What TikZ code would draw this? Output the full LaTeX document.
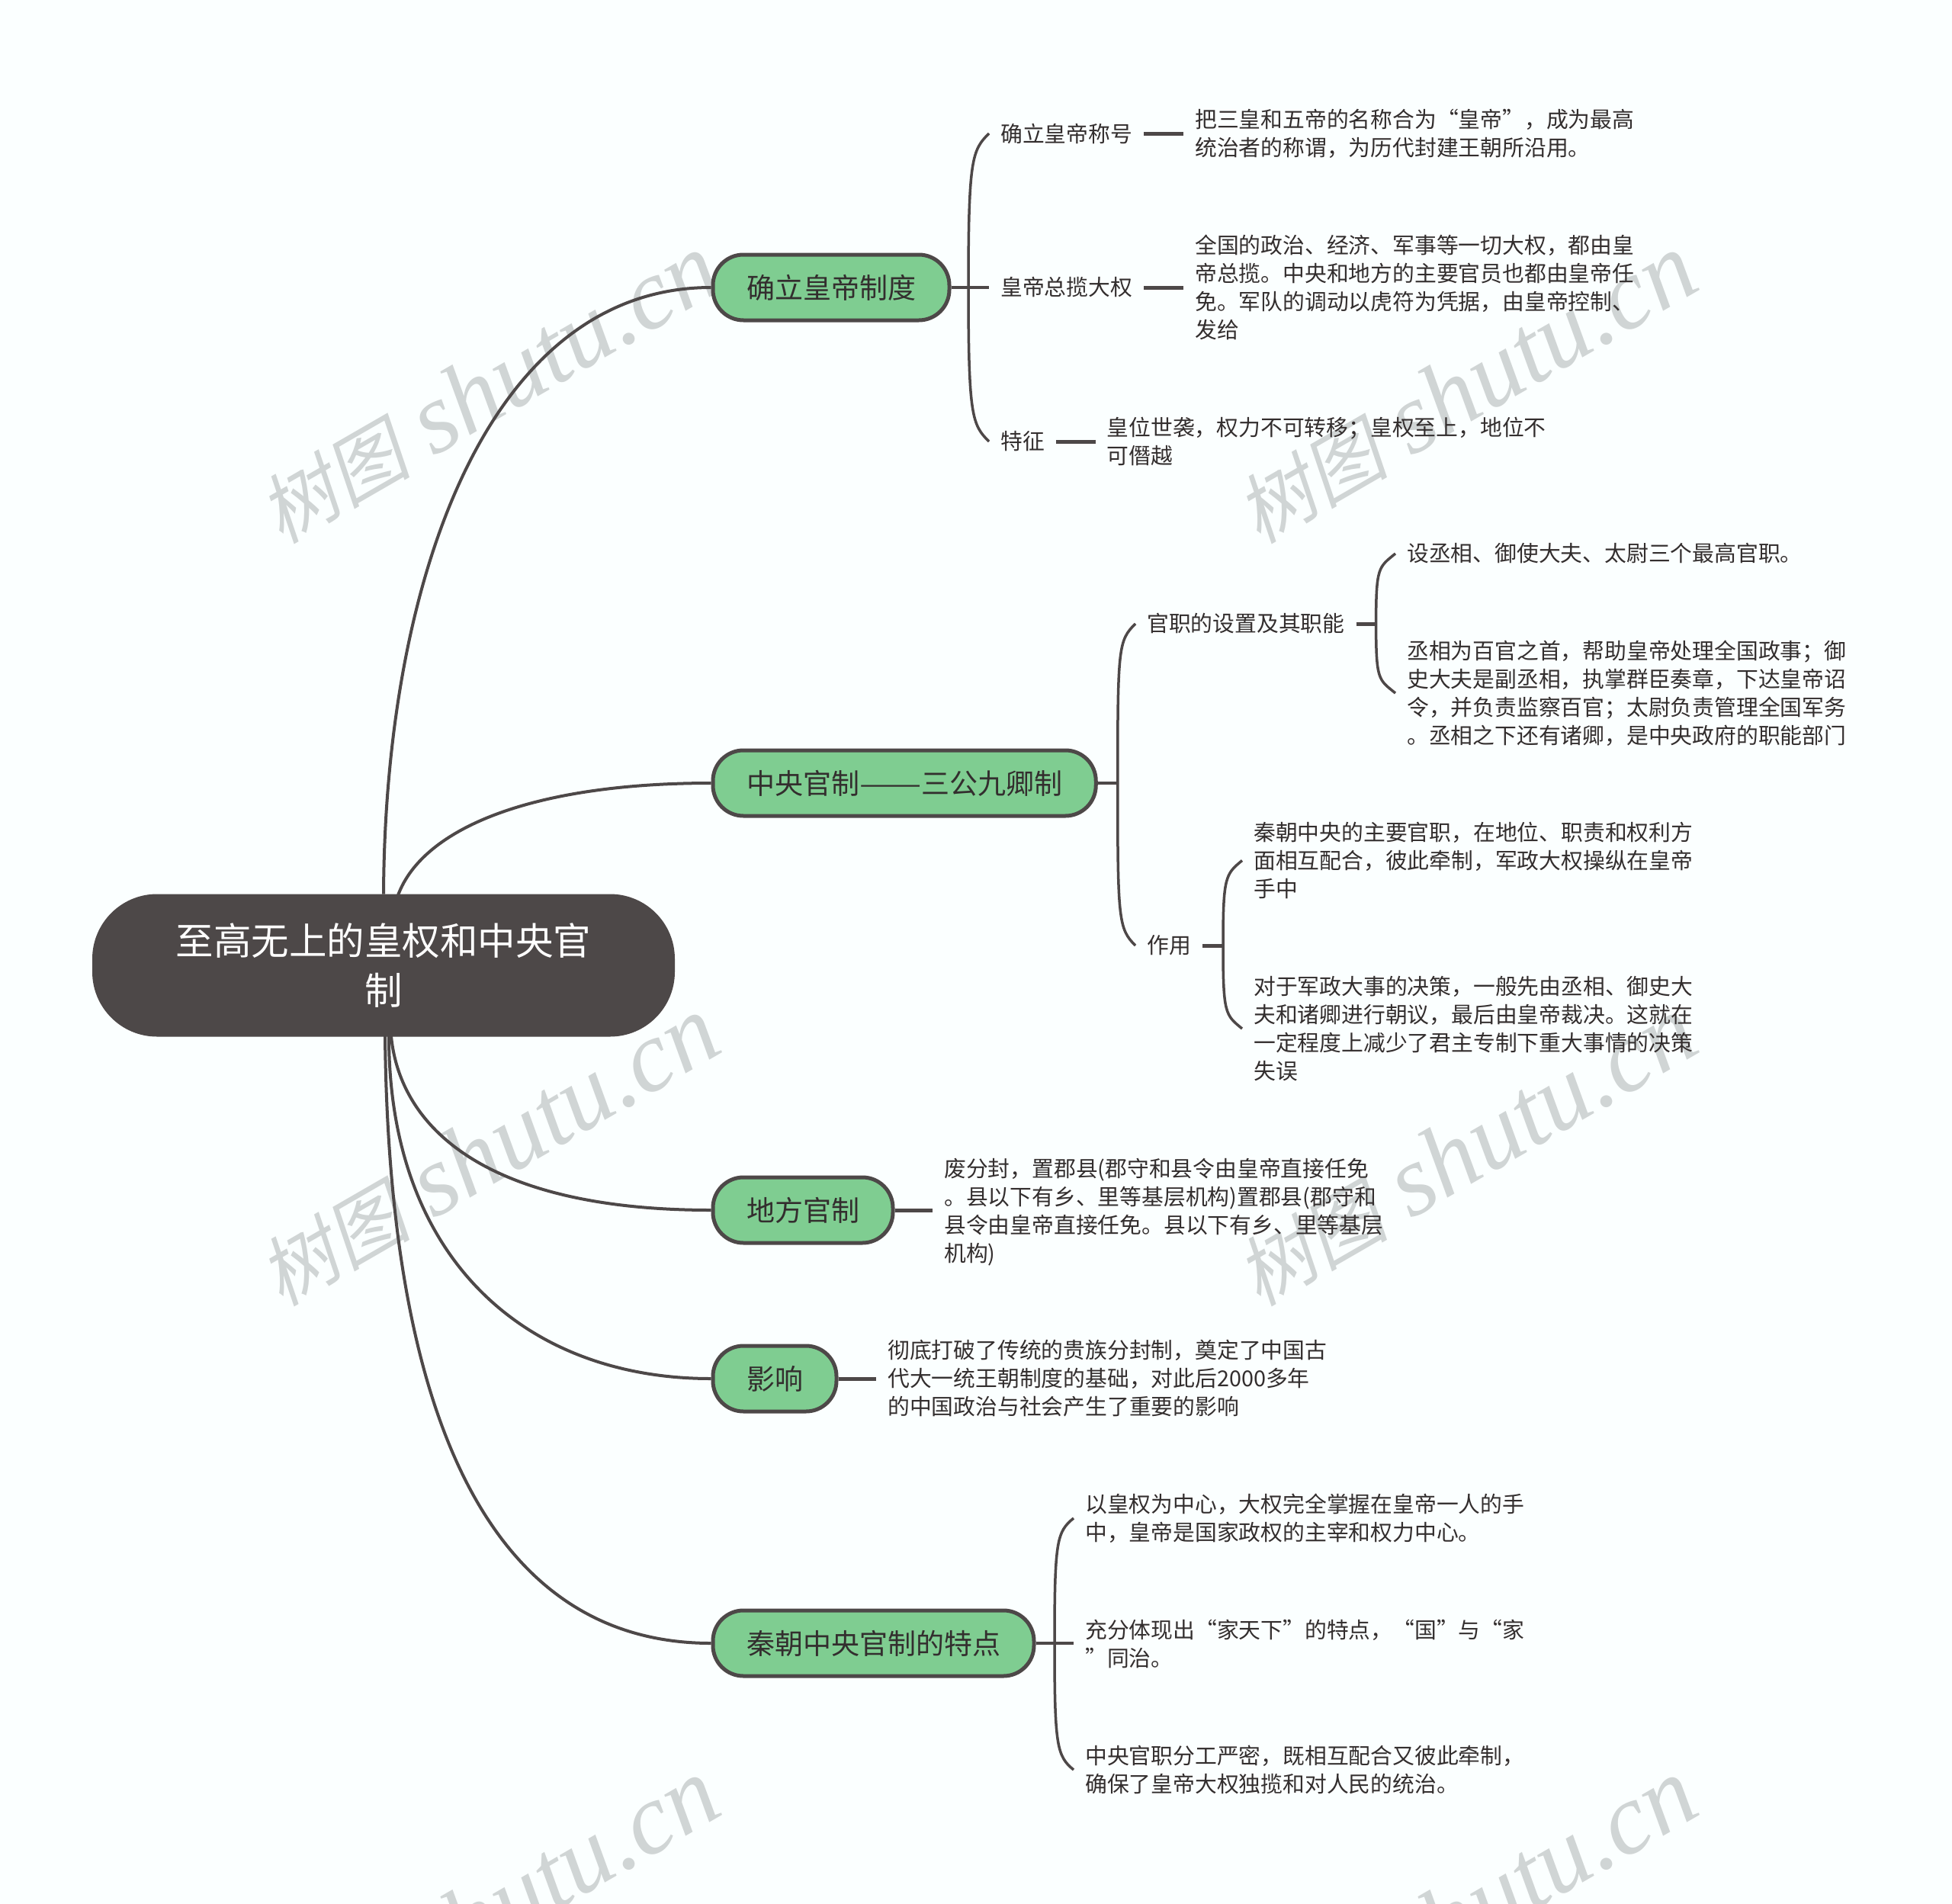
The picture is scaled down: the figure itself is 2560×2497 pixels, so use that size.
\documentclass[tikz,border=0pt]{standalone}
\usepackage{fontspec}
\setmainfont{Noto Sans CJK SC}
\newfontfamily\wmcjk[FakeSlant=0.2]{Noto Sans CJK SC}
\newfontfamily\wmlat{Liberation Serif}
\definecolor{pagebg}{HTML}{FBFFFF}
\definecolor{inkdark}{HTML}{4D4848}
\definecolor{leafgreen}{HTML}{7FCD91}
\definecolor{marktone}{HTML}{D0D5D5}
\definecolor{bodyink}{HTML}{332E2E}
\begin{document}
\begin{tikzpicture}
            [x=1pt, y=-1pt,
            rootnode/.style={shape=rectangle, rounded corners=84pt, fill=inkdark, draw=inkdark, line width=2pt, minimum width=762pt, minimum height=185pt, text=white, align=center, font=\fontsize{49.5}{65}\selectfont},
            topic/.style={shape=rectangle, rounded corners=40pt, fill=leafgreen, draw=inkdark, line width=5pt, minimum height=86pt, inner xsep=44pt, anchor=west, text=bodyink, font=\fontsize{37}{44}\selectfont},
            leaf/.style={inner xsep=15pt, inner ysep=0pt, anchor=west, align=left, text=bodyink, font=\fontsize{28.8}{37}\selectfont},
            stalk/.style={draw=inkdark, line width=4pt},
            twig/.style={draw=inkdark, line width=3.5pt},
            dash line/.style={draw=inkdark, line width=5pt},
            watermark/.style={text=marktone, rotate=30, inner sep=0pt, font=\fontsize{132}{132}\selectfont}]
            \useasboundingbox (0, 0) rectangle (2560, 2497);
            \clip (0, 0) rectangle (2560, 2497);
            \fill[pagebg] (0, 0) rectangle (2560, 2497);

            \foreach \col/\colx in {a/640, b/1922}
                \foreach \row/\rowy in {a/510, b/1510, c/2510}
                    \node[watermark] (mark\col\row) at (\colx, \rowy) {{\wmcjk\fontsize{100}{100}\selectfont 树图}\hspace{30pt}{\wmlat\itshape shutu.cn}};

            \node[rootnode] (root) at (503, 1266) {至高无上的皇权和中央官\\制};
            \coordinate (rootb) at (522, 1174);
            \coordinate (rootc) at (513, 1359);
            \coordinate (rootd) at (510, 1359);
            \coordinate (roote) at (505, 1359);

            \node[topic] (rule) at (932.5, 377) {确立皇帝制度};
            \node[topic] (office) at (932.5, 1027) {中央官制\scalebox{1.31}[1]{——}三公九卿制};
            \node[topic] (local) at (932.5, 1587) {地方官制};
            \node[topic] (effect) at (932.5, 1808) {影响};
            \node[topic] (traits) at (932.5, 2155) {秦朝中央官制的特点};

            \node[leaf] (title) at (1297, 175) {确立皇帝称号};
            \node[leaf] (power) at (1297, 377) {皇帝总揽大权};
            \node[leaf] (mark) at (1297, 579) {特征};
            \node[leaf] (titletext) at (1552, 175) {把三皇和五帝的名称合为“皇帝”，成为最高\\统治者的称谓，为历代封建王朝所沿用。};
            \node[leaf] (powertext) at (1552, 377) {全国的政治、经济、军事等一切大权，都由皇\\帝总揽。中央和地方的主要官员也都由皇帝任\\免。军队的调动以虎符为凭据，由皇帝控制、\\发给};
            \node[leaf] (marktext) at (1436.5, 579) {皇位世袭，权力不可转移；皇权至上，地位不\\可僭越};

            \node[leaf] (setup) at (1489, 818) {官职的设置及其职能};
            \node[leaf] (role) at (1489, 1240) {作用};
            \node[leaf] (setupa) at (1830, 726) {设丞相、御使大夫、太尉三个最高官职。};
            \node[leaf] (setupb) at (1830, 909) {丞相为百官之首，帮助皇帝处理全国政事；御\\史大夫是副丞相，执掌群臣奏章，下达皇帝诏\\令，并负责监察百官；太尉负责管理全国军务\\。丞相之下还有诸卿，是中央政府的职能部门};
            \node[leaf] (rolea) at (1629, 1128.5) {秦朝中央的主要官职，在地位、职责和权利方\\面相互配合，彼此牵制，军政大权操纵在皇帝\\手中};
            \node[leaf] (roleb) at (1629, 1349) {对于军政大事的决策，一般先由丞相、御史大\\夫和诸卿进行朝议，最后由皇帝裁决。这就在\\一定程度上减少了君主专制下重大事情的决策\\失误};

            \node[leaf] (localtext) at (1223, 1590) {废分封，置郡县(郡守和县令由皇帝直接任免\\。县以下有乡、里等基层机构)置郡县(郡守和\\县令由皇帝直接任免。县以下有乡、里等基层\\机构)};
            \node[leaf] (effecttext) at (1149, 1808) {彻底打破了传统的贵族分封制，奠定了中国古\\代大一统王朝制度的基础，对此后2000多年\\的中国政治与社会产生了重要的影响};

            \node[leaf] (traita) at (1408, 1991) {以皇权为中心，大权完全掌握在皇帝一人的手\\中，皇帝是国家政权的主宰和权力中心。};
            \node[leaf] (traitb) at (1408, 2156) {充分体现出“家天下”的特点，“国”与“家\\”同治。};
            \node[leaf] (traitc) at (1408, 2321) {中央官职分工严密，既相互配合又彼此牵制，\\确保了皇帝大权独揽和对人民的统治。};

            \path[stalk] (root.north) .. controls +(2, -414) and +(-292, 0) .. (rule.west);
            \path[stalk] (rootb) .. controls +(33, -89) and +(-232, 0) .. (office.west);
            \path[stalk] (rootc) .. controls +(12, 121) and +(-294, 0) .. (local.west);
            \path[stalk] (rootd) .. controls +(0, 291) and +(-244, 0) .. (effect.west);
            \path[stalk] (roote) .. controls +(5, 491) and +(-294, 0) .. (traits.west);

            \path[twig] (rule.east) -- (power.west);
            \path[twig] (rule.east -| power.west) ++(-27, 0) coordinate (rulejoin);
            \path[twig] (rulejoin) .. controls +(0, -170) and +(-22, 22) .. (title.west);
            \path[twig] (rulejoin) .. controls +(0, 170) and +(-22, -22) .. (mark.west);
            \path[dash line] (title.east) -- (titletext.west);
            \path[dash line] (power.east) -- (powertext.west);
            \path[dash line] (mark.east) -- (marktext.west);

            \path[twig] (office.east) -- ++(26, 0) coordinate (officejoin);
            \path[twig] (officejoin) .. controls +(0, -180) and +(-22, 22) .. (setup.west);
            \path[twig] (officejoin) .. controls +(0, 180) and +(-22, -22) .. (role.west);
            \path[dash line] (setup.east) -- ++(26, 0) coordinate (setupjoin);
            \path[twig] (setupjoin) .. controls +(0, -75) and +(-22, 18) .. (setupa.west);
            \path[twig] (setupjoin) .. controls +(0, 75) and +(-22, -18) .. (setupb.west);
            \path[dash line] (role.east) -- ++(27, 0) coordinate (rolejoin);
            \path[twig] (rolejoin) .. controls +(0, -90) and +(-22, 18) .. (rolea.west);
            \path[twig] (rolejoin) .. controls +(0, 90) and +(-22, -18) .. (roleb.west);

            \path[dash line] (local.east) -- (local.east -| localtext.west);
            \path[dash line] (effect.east) -- (effecttext.west);

            \path[twig] (traits.east) -- (traits.east -| traitb.west);
            \path[twig] (traits.east -| traitb.west) ++(-25, 0) coordinate (traitjoin);
            \path[twig] (traitjoin) .. controls +(0, -135) and +(-22, 18) .. (traita.west);
            \path[twig] (traitjoin) .. controls +(0, 135) and +(-22, -18) .. (traitc.west);
        \end{tikzpicture}
\end{document}
